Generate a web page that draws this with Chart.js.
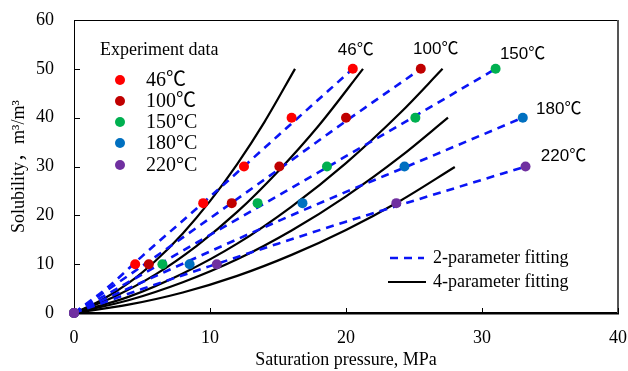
<!DOCTYPE html>
<html>
<head>
<meta charset="utf-8">
<script src="https://cdn.jsdelivr.net/npm/chart.js@4.4.0/dist/chart.umd.min.js"></script>
<style>
html,body{margin:0;padding:0;background:#fff;}
#wrap{width:628px;height:371px;position:relative;}
</style>
</head>
<body>
<div id="wrap"><canvas id="c" width="628" height="371"></canvas></div>
<script>
// ---- Experiment data ----
const temps = ['46℃', '100℃', '150°C', '180°C', '220°C'];
const curveLabels = ['46℃', '100℃', '150℃', '180℃', '220℃'];
const pressure46 = [0, 4.5, 9.5, 12.5, 16, 20.5];
const solub46 = [0, 10, 22.5, 30, 40, 50];
const pressure100 = [0, 5.5, 11.6, 15.1, 20, 25.5];
const solub100 = [0, 10, 22.5, 30, 40, 50];
const pressure150 = [0, 6.5, 13.5, 18.6, 25.1, 31];
const solub150 = [0, 10, 22.5, 30, 40, 50];
const pressure180 = [0, 8.5, 16.8, 24.3, 33];
const solub180 = [0, 10, 22.5, 30, 40];
const pressure220 = [0, 10.5, 23.7, 33.2];
const solub220 = [0, 10, 22.5, 30];

// ---- 2-parameter fitting (dashed) ----
const fit2x46 = [0, 2.5, 5, 10, 15, 20.5];
const fit2y46 = [0, 5.3, 11.6, 23.8, 36.3, 50];
const fit2x100 = [0, 5, 10, 15, 20, 25.5];
const fit2y100 = [0, 9.6, 19.4, 29.3, 39.3, 50];
const fit2x150 = [0, 5, 10, 15, 20, 25, 31];
const fit2y150 = [0, 7.9, 16.0, 24.0, 32.1, 40.2, 50];
const fit2x180 = [0, 5, 10, 15, 20, 25, 33];
const fit2y180 = [0, 6.3, 12.6, 18.8, 24.8, 30.6, 40];
const fit2x220 = [0, 5, 10, 15, 20, 25, 33.2];
const fit2y220 = [0, 4.9, 9.6, 14.2, 18.7, 23.0, 30];

// ---- 4-parameter fitting (solid) ----
const fit4x46 = [0, 2, 4, 6, 8, 10, 12, 14, 16.25];
const fit4y46 = [0, 2.6, 6.1, 10.7, 16.3, 22.9, 30.5, 39.1, 50];
const fit4x100 = [0, 3, 6, 9, 12, 15, 18, 21.25];
const fit4y100 = [0, 3.4, 7.9, 13.7, 20.7, 29.0, 38.4, 50];
const fit4x150 = [0, 4, 8, 12, 16, 20, 24, 27.1];
const fit4y150 = [0, 3.3, 8.1, 14.2, 21.8, 30.7, 41.0, 50];
const fit4x180 = [0, 4, 8, 12, 16, 20, 24, 27.5];
const fit4y180 = [0, 2.6, 6.3, 11.0, 16.9, 23.9, 32.0, 40];
const fit4x220 = [0, 4, 8, 12, 16, 20, 24, 28];
const fit4y220 = [0, 1.7, 4.2, 7.6, 11.9, 17.0, 23.0, 29.9];

const xTicks = [0, 10, 20, 30, 40];
const yTicks = [0, 10, 20, 30, 40, 50, 60];

const pointColors = ['#FF0000', '#C00000', '#00B050', '#0070C0', '#7030A0'];
const expX = [pressure46, pressure100, pressure150, pressure180, pressure220];
const expY = [solub46, solub100, solub150, solub180, solub220];
const f2x = [fit2x46, fit2x100, fit2x150, fit2x180, fit2x220];
const f2y = [fit2y46, fit2y100, fit2y150, fit2y180, fit2y220];
const f4x = [fit4x46, fit4x100, fit4x150, fit4x180, fit4x220];
const f4y = [fit4y46, fit4y100, fit4y150, fit4y180, fit4y220];

const zip = (xs, ys) => xs.map((x, i) => ({x: x, y: ys[i]}));

const datasets = [];
for (let i = 4; i >= 0; i--) {
  datasets.push({
    label: temps[i], data: zip(expX[i], expY[i]),
    showLine: false, pointRadius: 5, pointHoverRadius: 5, clip: false,
    backgroundColor: pointColors[i], borderColor: pointColors[i], borderWidth: 0
  });
}
for (let i = 0; i < 5; i++) {
  datasets.push({
    label: '2-parameter fitting', data: zip(f2x[i], f2y[i]),
    showLine: true, pointRadius: 0, borderColor: '#0A14F5', borderWidth: 2.6,
    borderDash: [8, 6], tension: 0.3, cubicInterpolationMode: 'monotone', fill: false
  });
}
for (let i = 0; i < 5; i++) {
  datasets.push({
    label: '4-parameter fitting', data: zip(f4x[i], f4y[i]),
    showLine: true, pointRadius: 0, borderColor: '#000000', borderWidth: 2.2,
    tension: 0.3, cubicInterpolationMode: 'monotone', fill: false
  });
}

const serif = '"Liberation Serif", "Times New Roman", "Noto Sans CJK SC", serif';

const decor = {
  id: 'decor',
  afterDraw(chart) {
    const ctx = chart.ctx, ca = chart.chartArea;
    const xs = chart.scales.x, ys = chart.scales.y;
    ctx.save();
    ctx.strokeStyle = '#000'; ctx.lineWidth = 1;
    ctx.beginPath(); ctx.moveTo(ca.left, ca.top + 0.5); ctx.lineTo(ca.right, ca.top + 0.5); ctx.stroke();
    ctx.strokeStyle = '#555'; ctx.lineWidth = 2;
    ctx.beginPath(); ctx.moveTo(ca.right, ca.top); ctx.lineTo(ca.right, ca.bottom); ctx.stroke();
    ctx.strokeStyle = '#000'; ctx.lineWidth = 1;
    xTicks.forEach(v => {
      const px = Math.round(xs.getPixelForValue(v)) + 0.5;
      ctx.beginPath(); ctx.moveTo(px, ca.bottom); ctx.lineTo(px, ca.bottom - 5); ctx.stroke();
    });
    yTicks.forEach(v => {
      const py = Math.round(ys.getPixelForValue(v)) + 0.5;
      ctx.beginPath(); ctx.moveTo(ca.left, py); ctx.lineTo(ca.left + 6, py); ctx.stroke();
    });
    // origin marker above the axis lines
    ctx.fillStyle = pointColors[4];
    ctx.beginPath(); ctx.arc(xs.getPixelForValue(pressure220[0]), ys.getPixelForValue(solub220[0]), 5, 0, Math.PI * 2); ctx.fill();
    // curve temperature labels
    const offs = [[3, -19], [15, -20], [27, -15], [36, -8], [38, -10]];
    ctx.fillStyle = '#000';
    ctx.font = '17px "Liberation Sans", "Noto Sans CJK SC", sans-serif';
    ctx.textAlign = 'center'; ctx.textBaseline = 'middle';
    for (let i = 0; i < 5; i++) {
      const n = expX[i].length - 1;
      const px = xs.getPixelForValue(expX[i][n]);
      const py = ys.getPixelForValue(expY[i][n]);
      ctx.fillText(curveLabels[i], px + offs[i][0], py + offs[i][1]);
    }
    ctx.textAlign = 'left';
    ctx.font = '18px ' + serif;
    ctx.fillText('Experiment data', 100, 50);
    ctx.font = '20px ' + serif;
    const ly = [80, 101, 122, 143, 165];
    for (let i = 0; i < 5; i++) {
      ctx.fillStyle = pointColors[i];
      ctx.beginPath(); ctx.arc(120, ly[i], 5, 0, Math.PI * 2); ctx.fill();
      ctx.fillStyle = '#000';
      ctx.fillText(temps[i], 146, ly[i] + 1);
    }
    ctx.font = '18px ' + serif;
    ctx.strokeStyle = '#0A14F5'; ctx.lineWidth = 2.6; ctx.setLineDash([8, 6]);
    ctx.beginPath(); ctx.moveTo(390, 258); ctx.lineTo(424, 258); ctx.stroke();
    ctx.setLineDash([]);
    ctx.strokeStyle = '#000'; ctx.lineWidth = 2.2;
    ctx.beginPath(); ctx.moveTo(388, 282); ctx.lineTo(426, 282); ctx.stroke();
    ctx.fillText('2-parameter fitting', 433, 258);
    ctx.fillText('4-parameter fitting', 433, 282);
    ctx.restore();
  }
};

new Chart(document.getElementById('c'), {
  type: 'scatter',
  data: { datasets: datasets },
  options: {
    responsive: false, animation: false,
    layout: { padding: { left: 0, right: 10, top: 20, bottom: 0 } },
    plugins: { legend: { display: false }, tooltip: { enabled: false } },
    scales: {
      x: {
        type: 'linear', min: 0, max: 40,
        afterBuildTicks: s => { s.ticks = xTicks.map(v => ({value: v})); },
        afterFit: s => { s.height = 58; s.paddingLeft = 0; s.paddingRight = 0; },
        grid: { display: true, drawOnChartArea: false, drawTicks: false },
        border: { display: true, color: '#000', width: 2.5 },
        ticks: { color: '#000', font: { family: serif, size: 18 }, padding: 14, maxRotation: 0 },
        title: { display: true, text: 'Saturation pressure, MPa', color: '#000',
                 font: { family: serif, size: 18 }, padding: { top: 0, bottom: 0 } }
      },
      y: {
        type: 'linear', min: 0, max: 60,
        afterBuildTicks: s => { s.ticks = yTicks.map(v => ({value: v})); },
        afterFit: s => { s.width = 74; s.paddingTop = 0; s.paddingBottom = 0; },
        grid: { display: true, drawOnChartArea: false, drawTicks: false },
        border: { display: true, color: '#000', width: 1 },
        ticks: { color: '#000', font: { family: serif, size: 18 }, padding: 20 },
        title: { display: true, text: 'Solubility，m³/m³', color: '#000',
                 font: { family: serif, size: 18 }, padding: { top: 8, bottom: 0 } }
      }
    }
  },
  plugins: [decor]
});
</script>
</body>
</html>
